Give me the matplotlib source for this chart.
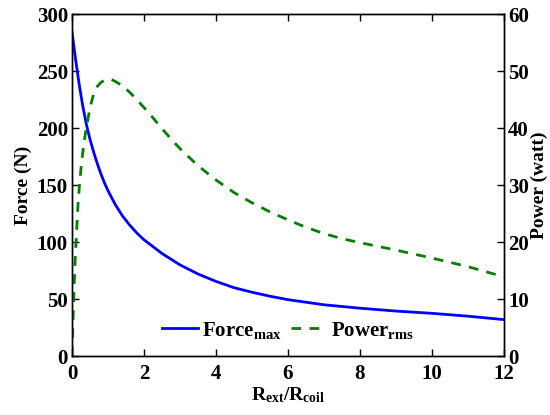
"""Force and power versus external/coil radius ratio."""

import matplotlib
matplotlib.use('Agg')
import matplotlib.pyplot as plt

plt.rcParams['font.family'] = ['Liberation Serif', 'DejaVu Serif']
plt.rcParams['font.weight'] = 'bold'
plt.rcParams['mathtext.fontset'] = 'custom'
plt.rcParams['mathtext.rm'] = 'Liberation Serif:bold'
plt.rcParams['mathtext.it'] = 'Liberation Serif:bold'
plt.rcParams['mathtext.bf'] = 'Liberation Serif:bold'

# Force_max (N), left axis
force_x = [0, 0.1, 0.2, 0.3, 0.4, 0.5, 0.6, 0.7, 0.8, 0.9, 1.0, 1.2, 1.4, 1.6,
           1.8, 2.0, 2.25, 2.5, 2.75, 3.0, 3.5, 4.0, 4.5, 5.0, 5.5, 6.0, 7.0,
           8.0, 9.0, 10.0, 11.0, 12.0]
force_y = [284, 260, 238, 219, 203, 190, 179, 169, 160, 152, 145, 133, 123, 115,
           108, 102, 96, 90, 85, 80, 72, 65.5, 60, 56, 52.5, 49.5, 45,
           42, 39.5, 37.5, 35, 32]

# Power_rms (watt), right axis
power_x = [0, 0.04, 0.08, 0.12, 0.16, 0.2, 0.25, 0.3, 0.35, 0.4, 0.5, 0.6, 0.7,
           0.8, 0.9, 1.0, 1.1, 1.2, 1.4, 1.6, 1.8, 2.0, 2.25, 2.5, 2.75, 3.0,
           3.5, 4.0, 4.5, 5.0, 5.5, 6.0, 6.5, 7.0, 7.5, 8.0, 9.0, 10.0, 11.0, 12.0]
power_y = [0, 9, 16, 21, 26, 29.5, 33, 35.8, 38.2, 40.2, 43.6, 46, 47.3,
           48.0, 48.4, 48.6, 48.5, 48.2, 47.4, 46.3, 45, 43.6, 41.8, 39.9, 38.1, 36.4,
           33.4, 30.9, 28.7, 26.9, 25.3, 23.9, 22.6, 21.5, 20.6, 19.9, 18.6, 17.2, 15.7, 13.9]

fs = 15
lfs = 14

fig = plt.figure(figsize=(5.5, 4.15), dpi=100)
ax = fig.add_axes([0.131, 0.142, 0.785, 0.824])
ax2 = ax.twinx()

l1, = ax.plot(force_x, force_y, color='#0000FF', linewidth=2.0, label='Force$_{max}$')
l2, = ax2.plot(power_x, power_y, color='#008000', linewidth=2.0, linestyle=(0, (3.5, 3)),
               label='Power$_{rms}$')

ax.set_xlim(0, 12)
ax.set_ylim(0, 300)
ax2.set_ylim(0, 60)
ax.set_xticks([0, 2, 4, 6, 8, 10, 12])
ax.set_yticks([0, 50, 100, 150, 200, 250, 300])
ax2.set_yticks([0, 10, 20, 30, 40, 50, 60])

ax.tick_params(axis='x', direction='in', top=True, labelsize=fs, length=5, width=1, pad=6)
ax.tick_params(axis='y', direction='in', right=False, labelsize=fs, length=5, width=1, pad=3)
ax2.tick_params(direction='in', labelsize=fs, length=5, width=1, pad=3)
for a in (ax, ax2):
    for s in a.spines.values():
        s.set_linewidth(1.0)
    for lab in a.get_xticklabels() + a.get_yticklabels():
        lab.set_fontweight('bold')

ax.set_xlabel('R$_{ext}$/R$_{coil}$', fontsize=lfs, fontweight='bold', labelpad=1)
ax.set_ylabel('Force (N)', fontsize=lfs, fontweight='bold', labelpad=3)
ax2.set_ylabel('Power (watt)', fontsize=lfs, fontweight='bold', labelpad=1)

ax2.legend([l1, l2], [l1.get_label(), l2.get_label()], loc='lower center',
           bbox_to_anchor=(0.5, -0.01), ncol=2, frameon=False, fontsize=fs,
           handlelength=1.75, handletextpad=0.2, columnspacing=0.4)

fig.savefig('out.png', dpi=100)
